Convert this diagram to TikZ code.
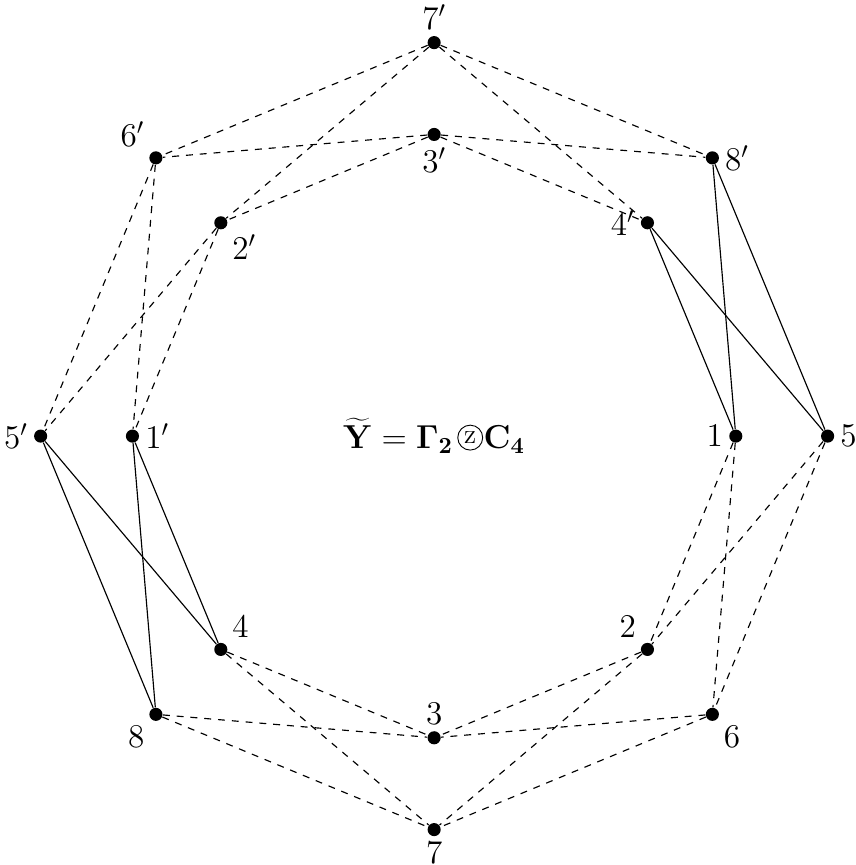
\documentclass[tikz,border=0pt]{standalone}
\usetikzlibrary{positioning}
\begin{document}
\begin{tikzpicture}[every node/.style={font=\Large},label distance=-1pt,
  vert/.style={circle,fill=black,inner sep=0pt,minimum size=0.2cm},
  solidedge/.style={line width=0.5pt},
  dashedge/.style={dashed,line width=0.5pt}]
  \useasboundingbox (-6.62,-6.54) rectangle (6.43,6.65);
  % outer ring
  \node[vert,label={right:$5$}] (v5) at (0:6) {};
  \node[vert,label={right:$8'$}] (v8p) at (45:6) {};
  \node[vert,label={above:$7'$}] (v7p) at (90:6) {};
  \node[vert,label={above left:$6'$}] (v6p) at (135:6) {};
  \node[vert,label={left:$5'$}] (v5p) at (180:6) {};
  \node[vert,label={below left:$8$}] (v8) at (225:6) {};
  \node[vert,label={below:$7$}] (v7) at (270:6) {};
  \node[vert,label={below right:$6$}] (v6) at (315:6) {};
  % inner ring
  \node[vert,label={left:$1$}] (v1) at (0:4.6) {};
  \node[vert,label={left:$4'$}] (v4p) at (45:4.6) {};
  \node[vert,label={below:$3'$}] (v3p) at (90:4.6) {};
  \node[vert,label={below right:$2'$}] (v2p) at (135:4.6) {};
  \node[vert,label={right:$1'$}] (v1p) at (180:4.6) {};
  \node[vert,label={above right:$4$}] (v4) at (225:4.6) {};
  \node[vert,label={above:$3$}] (v3) at (270:4.6) {};
  \node[vert,label={above left:$2$}] (v2) at (315:4.6) {};
  % title
  \node[inner sep=0pt] (tlhs) at (-0.55,0) {$\widetilde{\mathbf{Y}}=\mathbf{\Gamma}_{\mathbf{2}}$};
  \node[draw,circle,inner sep=0pt,minimum size=0.38cm,font=\large,anchor=west] (tz) at ([xshift=0.06cm,yshift=4.8pt]tlhs.base east) {z};
  \node[inner sep=0pt,anchor=base west] (trhs) at (tz.east |- tlhs.base) {$\mathbf{C}_{\mathbf{4}}$};
  % solid edges
  \draw[solidedge] (v4p) -- (v1);
  \draw[solidedge] (v4p) -- (v5);
  \draw[solidedge] (v8p) -- (v1);
  \draw[solidedge] (v8p) -- (v5);
  \draw[solidedge] (v5p) -- (v4);
  \draw[solidedge] (v5p) -- (v8);
  \draw[solidedge] (v1p) -- (v4);
  \draw[solidedge] (v1p) -- (v8);
  % dashed edges
  \draw[dashedge] (v7p) -- (v6p);
  \draw[dashedge] (v7p) -- (v2p);
  \draw[dashedge] (v7p) -- (v8p);
  \draw[dashedge] (v7p) -- (v4p);
  \draw[dashedge] (v3p) -- (v6p);
  \draw[dashedge] (v3p) -- (v2p);
  \draw[dashedge] (v3p) -- (v8p);
  \draw[dashedge] (v3p) -- (v4p);
  \draw[dashedge] (v6p) -- (v5p);
  \draw[dashedge] (v6p) -- (v1p);
  \draw[dashedge] (v2p) -- (v5p);
  \draw[dashedge] (v2p) -- (v1p);
  \draw[dashedge] (v1) -- (v2);
  \draw[dashedge] (v1) -- (v6);
  \draw[dashedge] (v5) -- (v2);
  \draw[dashedge] (v5) -- (v6);
  \draw[dashedge] (v8) -- (v3);
  \draw[dashedge] (v8) -- (v7);
  \draw[dashedge] (v4) -- (v3);
  \draw[dashedge] (v4) -- (v7);
  \draw[dashedge] (v6) -- (v3);
  \draw[dashedge] (v6) -- (v7);
  \draw[dashedge] (v2) -- (v3);
  \draw[dashedge] (v2) -- (v7);
\end{tikzpicture}
\end{document}
